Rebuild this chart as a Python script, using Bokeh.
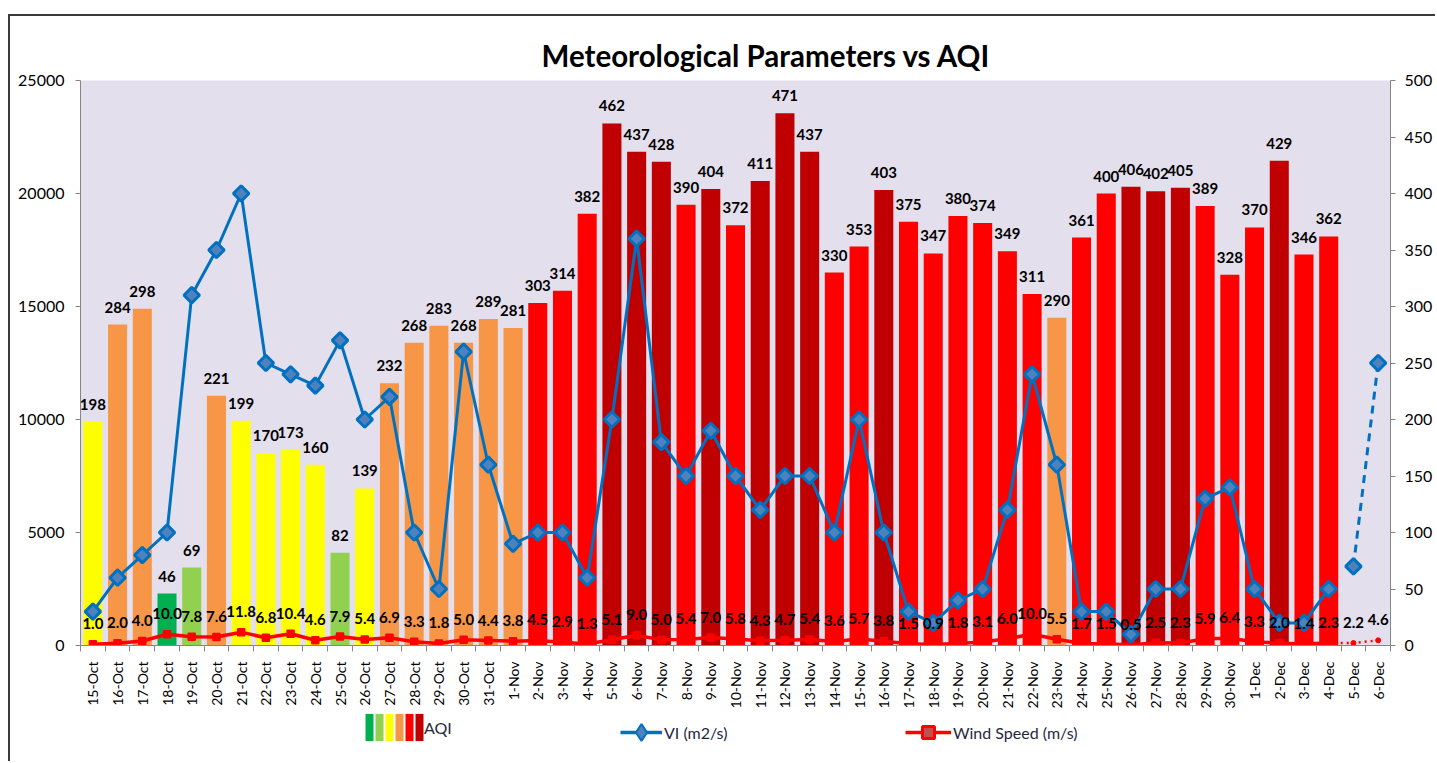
import math
from bokeh.plotting import figure
from bokeh.layouts import column
from bokeh.models import (ColumnDataSource, Range1d, LinearAxis, FixedTicker,
                          Legend, LegendItem, Title)
from bokeh.core.properties import value
from bokeh.embed import file_html
from bokeh.resources import INLINE

# ---------------- data ----------------
dates = ["15-Oct", "16-Oct", "17-Oct", "18-Oct", "19-Oct", "20-Oct", "21-Oct", "22-Oct",
         "23-Oct", "24-Oct", "25-Oct", "26-Oct", "27-Oct", "28-Oct", "29-Oct", "30-Oct",
         "31-Oct", "1-Nov", "2-Nov", "3-Nov", "4-Nov", "5-Nov", "6-Nov", "7-Nov", "8-Nov",
         "9-Nov", "10-Nov", "11-Nov", "12-Nov", "13-Nov", "14-Nov", "15-Nov", "16-Nov",
         "17-Nov", "18-Nov", "19-Nov", "20-Nov", "21-Nov", "22-Nov", "23-Nov", "24-Nov",
         "25-Nov", "26-Nov", "27-Nov", "28-Nov", "29-Nov", "30-Nov", "1-Dec", "2-Dec",
         "3-Dec", "4-Dec", "5-Dec", "6-Dec"]

aqi = [198, 284, 298, 46, 69, 221, 199, 170, 173, 160, 82, 139, 232, 268, 283, 268, 289,
       281, 303, 314, 382, 462, 437, 428, 390, 404, 372, 411, 471, 437, 330, 353, 403,
       375, 347, 380, 374, 349, 311, 290, 361, 400, 406, 402, 405, 389, 328,
       370, 429, 346, 362]

vi = [1500, 3000, 4000, 5000, 15500, 17500, 20000, 12500, 12000, 11500, 13500, 10000,
      11000, 5000, 2500, 13000, 8000,
      4500, 5000, 5000, 3000, 10000, 18000, 9000, 7500, 9500, 7500, 6000, 7500, 7500,
      5000, 10000, 5000, 1500, 1000, 2000, 2500, 6000, 12000, 8000, 1500, 1500, 500,
      2500, 2500, 6500, 7000,
      2500, 1000, 1000, 2500, 3500, 12500]

wind = [1.0, 2.0, 4.0, 10.0, 7.8, 7.6, 11.8, 6.8, 10.4, 4.6, 7.9, 5.4, 6.9, 3.3, 1.8, 5.0, 4.4,
        3.8, 4.5, 2.9, 1.3, 5.1, 9.0, 5.0, 5.4, 7.0, 5.8, 4.3, 4.7, 5.4, 3.6, 5.7, 3.8,
        1.5, 0.9, 1.8, 3.1, 6.0, 10.0, 5.5, 1.7, 1.5, 0.5, 2.5, 2.3, 5.9, 6.4,
        3.3, 2.0, 1.4, 2.3, 2.2, 4.6]

aqi_breaks = [50, 100, 200, 300, 400]
aqi_colors = ["#00B050", "#92D050", "#FFFF00", "#F79646", "#FF0000", "#C00000"]
last_solid = 50   # index of 4-Dec: later points are forecast (dashed / dotted)

# ---------------- helpers ----------------
def aqi_cat(v):
    for i, b in enumerate(aqi_breaks):
        if v <= b:
            return i
    return len(aqi_breaks)

FONT = "Lato"
W = 1425
xs = list(range(len(dates)))

bar_src = ColumnDataSource(dict(
    x=xs[:len(aqi)], aqi=aqi,
    color=[aqi_colors[aqi_cat(v)] for v in aqi],
    lbl=[str(v) for v in aqi]))
vi_src = ColumnDataSource(dict(x=xs, vi=vi))
vi_solid = ColumnDataSource(dict(x=xs[:last_solid + 1], vi=vi[:last_solid + 1]))
vi_fc = ColumnDataSource(dict(x=xs[last_solid + 1:], vi=vi[last_solid + 1:]))
wind_src = ColumnDataSource(dict(x=xs, w=wind, lbl=["%.1f" % v for v in wind]))
wind_solid = ColumnDataSource(dict(x=xs[:last_solid + 1], w=wind[:last_solid + 1]))
wind_fc = ColumnDataSource(dict(x=xs[last_solid:], w=wind[last_solid:]))

# ---------------- main figure ----------------
p = figure(width=W, height=695,
           x_range=Range1d(-0.5, len(dates) - 0.5), y_range=Range1d(0, 25000),
           output_backend="svg", toolbar_location=None,
           min_border_left=70, min_border_right=43, min_border_top=64, min_border_bottom=66,
           background_fill_color="#E4DFEC", border_fill_color="white",
           outline_line_color=None)
p.extra_y_ranges = {"aqi": Range1d(0, 500)}
p.xgrid.visible = False
p.ygrid.visible = False

# thin spacer title keeps the heading a few pixels higher above the frame
p.add_layout(Title(text=" ", text_font=FONT, text_font_size="5px", standoff=0), "above")
title = Title(text="Meteorological Parameters vs AQI", align="left", offset=461,
              text_font=FONT, text_font_size="29.5px", text_font_style="bold",
              text_color="#000000", standoff=0)
p.add_layout(title, "above")

# x axis
xa = p.xaxis[0]
xa.ticker = FixedTicker(ticks=xs, minor_ticks=[i - 0.5 for i in range(len(dates) + 1)])
xa.major_label_overrides = {i: d for i, d in enumerate(dates)}
xa.major_label_orientation = math.pi / 2
xa.major_tick_out = 0
xa.major_tick_in = 0
xa.minor_tick_out = 6
xa.minor_tick_in = 0
xa.major_label_standoff = 10
xa.axis_line_color = "#868686"
xa.minor_tick_line_color = "#868686"
xa.major_label_text_font = FONT
xa.major_label_text_font_size = "14px"
xa.major_label_text_color = "#000000"

# left axis
ya = p.yaxis[0]
ya.ticker = FixedTicker(ticks=list(range(0, 25001, 5000)))
ya.major_tick_out = 5
ya.major_tick_in = 0
ya.minor_tick_out = 0
ya.minor_tick_in = 0
ya.major_label_standoff = 11
ya.axis_line_color = "#868686"
ya.major_tick_line_color = "#868686"
ya.major_label_text_font = FONT
ya.major_label_text_font_size = "16px"
ya.major_label_text_color = "#000000"

# right axis
ra = LinearAxis(y_range_name="aqi", ticker=FixedTicker(ticks=list(range(0, 501, 50))))
ra.major_tick_out = 5
ra.major_tick_in = 0
ra.minor_tick_out = 0
ra.minor_tick_in = 0
ra.major_label_standoff = 9
ra.axis_line_color = "#868686"
ra.major_tick_line_color = "#868686"
ra.major_label_text_font = FONT
ra.major_label_text_font_size = "16px"
ra.major_label_text_color = "#000000"
p.add_layout(ra, "right")

# ---------------- glyphs ----------------
p.vbar(x="x", top="aqi", width=0.77, fill_color="color", line_color=None,
       y_range_name="aqi", source=bar_src)
p.text(x="x", y="aqi", text="lbl", source=bar_src, y_range_name="aqi",
       text_align="center", text_baseline="bottom", y_offset=-12,
       text_font=value(FONT), text_font_size="15px", text_font_style="bold",
       text_color="#000000")

# wind speed (right axis)
p.line(x="x", y="w", source=wind_solid, y_range_name="aqi",
       line_color="#FF0000", line_width=3.5)
p.scatter(x="x", y="w", source=wind_solid, y_range_name="aqi", marker="square",
          size=7, fill_color="#FF0000", line_color="#FF0000", line_width=1.5)
p.line(x="x", y="w", source=wind_fc, y_range_name="aqi",
       line_color="#FF0000", line_width=2.5, line_dash="2 4")
p.scatter(x="x", y="w", source=wind_fc, y_range_name="aqi", marker="circle",
          size=5, fill_color="#FF0000", line_color="#FF0000")

# VI (left axis)
p.line(x="x", y="vi", source=vi_solid, line_color="#0070C0", line_width=3)
p.line(x="x", y="vi", source=vi_fc, line_color="#0070C0", line_width=3, line_dash="8 6")
p.scatter(x="x", y="vi", source=vi_src, marker="square", angle=math.pi / 4,
          size=11, fill_color="#4F81BD", line_color="#0070C0", line_width=3)

# wind labels
p.text(x="x", y="w", text="lbl", source=wind_src, y_range_name="aqi",
       text_align="center", text_baseline="bottom", y_offset=-15,
       text_font=value(FONT), text_font_size="15px", text_font_style="bold",
       text_color="#000000")

# ---------------- legend strip (hidden proxies of the same series) ----------------
LH = 50
q = figure(width=W, height=LH, x_range=Range1d(-0.5, len(dates) - 0.5),
           y_range=Range1d(0, 25000),
           output_backend="svg", toolbar_location=None,
           min_border_left=0, min_border_right=0, min_border_top=0, min_border_bottom=0,
           background_fill_color="white", border_fill_color="white",
           outline_line_color=None)
q.axis.visible = False
q.grid.visible = False

qb = q.vbar(x="x", top="aqi", width=0.76, fill_color="color", line_color=None,
            source=bar_src, visible=False)
first_idx = []
for c in range(len(aqi_colors)):
    for i, v in enumerate(aqi):
        if aqi_cat(v) == c:
            first_idx.append(i)
            break
items = [LegendItem(label="", renderers=[qb], index=k) for k in first_idx[:-1]]
items.append(LegendItem(label="AQI", renderers=[qb], index=first_idx[-1]))

vl = q.line(x="x", y="vi", source=vi_solid, line_color="#0070C0", line_width=3.5,
            visible=False)
vp = q.scatter(x="x", y="vi", source=vi_src, marker="diamond", fill_color="#4F81BD",
               line_color="#0070C0", line_width=2, visible=False)
wl = q.line(x="x", y="w", source=wind_solid, line_color="#FF0000", line_width=3.5,
            visible=False)
wp = q.scatter(x="x", y="w", source=wind_solid, marker="square", fill_color="#C0504D",
               line_color="#FF0000", line_width=3, visible=False)

def style_legend(lg, gw, gh):
    lg.orientation = "horizontal"
    lg.background_fill_alpha = 0
    lg.border_line_color = None
    lg.padding = 0
    lg.margin = 0
    lg.glyph_width = gw
    lg.glyph_height = gh
    lg.label_text_font = FONT
    lg.label_text_font_size = "16px"
    lg.label_text_color = "#1f2a3c"
    lg.label_height = gh
    lg.label_standoff = 2
    lg.click_policy = "none"

leg1 = Legend(items=items, location=(284, 17))
style_legend(leg1, 10, 34)
leg1.spacing = 0
leg1.label_width = 0
leg1.label_standoff = 0
q.add_layout(leg1, "center")

leg2 = Legend(items=[LegendItem(label="VI (m2/s)", renderers=[vl, vp])], location=(540, 7))
style_legend(leg2, 42, 44)
q.add_layout(leg2, "center")

leg3 = Legend(items=[LegendItem(label="Wind Speed (m/s)", renderers=[wl, wp])],
              location=(825, 14))
style_legend(leg3, 46, 30)
q.add_layout(leg3, "center")

page = column(p, q, spacing=0)
page.margin = (14, 0, 0, 8)
page.styles = {"border-left": "2px solid #3a3a3a", "border-top": "2px solid #3a3a3a"}

open("out.html", "w").write(file_html(page, INLINE))
